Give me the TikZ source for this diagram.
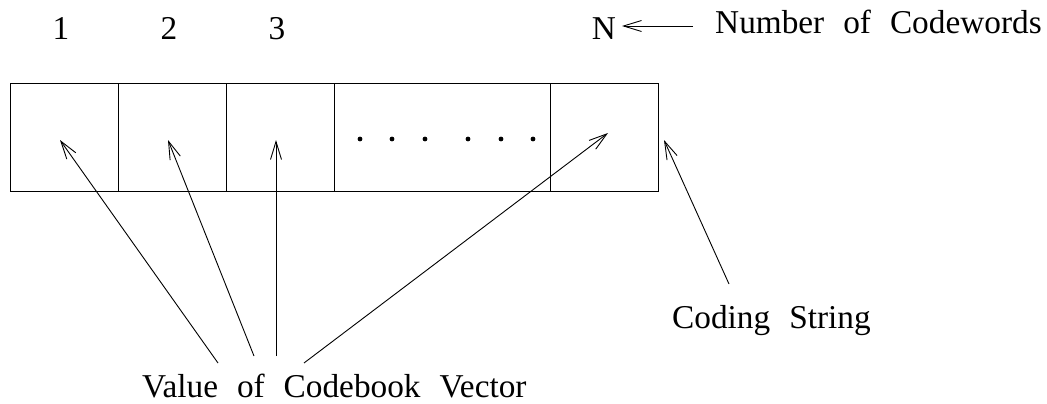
\documentclass[tikz,border=0pt]{standalone}
\usepackage{fontspec}
\setmainfont{Liberation Serif}
\usetikzlibrary{arrows.meta}
\newcommand\wsp{\hskip0.57em\relax}
\begin{document}
\begin{tikzpicture}[x=1pt,y=-1pt,
  txt/.style={inner sep=0pt,font=\fontsize{33.3}{38}\selectfont},
  cell/.style={draw,line width=1pt,inner sep=0pt,anchor=north west,minimum height=108pt},
  ptr/.style={line width=0.9pt,-{Straight Barb[length=18pt,width=11pt,line width=0.9pt]}},
  dotm/.style={fill,circle,inner sep=0pt,minimum size=4.8pt}]
\useasboundingbox (0,0) rectangle (1047,404);
% cells
\node[cell,minimum width=107.5pt] (c1) at (10,83) {};
\node[cell,minimum width=108pt] (c2) at (117.5,83) {};
\node[cell,minimum width=108pt] (c3) at (225.5,83) {};
\node[cell,minimum width=216pt] (c4) at (333.5,83) {};
\node[cell,minimum width=108pt] (c5) at (549.5,83) {};
% dots
\foreach \i/\x in {1/360,2/392,3/425,4/468,5/501,6/533}
  \node[dotm] (d\i) at (\x,139) {};
% top labels
\node[txt,anchor=base] (n1) at (61,40) {1};
\node[txt,anchor=base] (n2) at (169,40) {2};
\node[txt,anchor=base] (n3) at (277,40) {3};
\node[txt,anchor=base] (nN) at (604,39.5) {N};
\node[txt,anchor=base west] (ncw) at (715,34) {Number\wsp of\wsp Codewords};
\coordinate (a0) at (693,26);
\coordinate (a1) at (622,26);
\draw[ptr] (a0) -- (a1);
% bottom labels
\node[txt,anchor=base west] (val) at (142,397) {Value\wsp of\wsp Codebook\wsp Vector};
\node[txt,anchor=base west] (cs) at (672,328) {Coding\wsp String};
% tails and tips
\coordinate (v1) at (218,363);
\coordinate (v2) at (254,356);
\coordinate (v3) at (276,356);
\coordinate (v4) at (304,363);
\coordinate (t1) at (60,140);
\coordinate (t2) at (168,140);
\coordinate (t3) at (276,140);
\coordinate (t4) at (608,133);
\coordinate (s0) at (729,284);
\coordinate (s1) at (664,140);
\draw[ptr] (v1) -- (t1);
\draw[ptr] (v2) -- (t2);
\draw[ptr] (v3) -- (t3);
\draw[ptr] (v4) -- (t4);
\draw[ptr] (s0) -- (s1);
\end{tikzpicture}
\end{document}
